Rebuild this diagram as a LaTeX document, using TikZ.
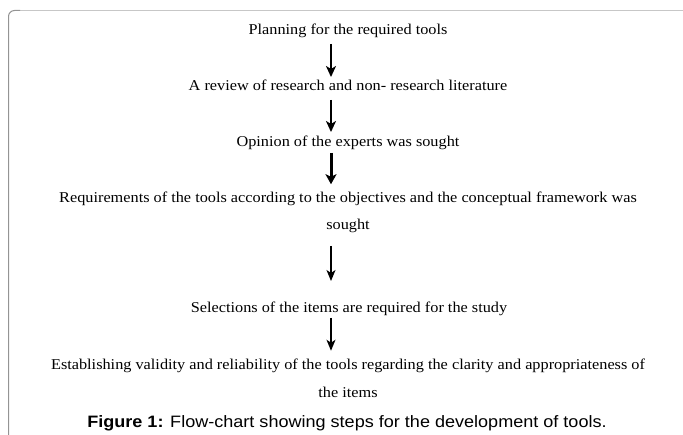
\documentclass[tikz,border=0pt]{standalone}
\usepackage{fontspec}
\setmainfont{Liberation Serif}
\newfontfamily\capfont{Liberation Sans}
\usetikzlibrary{arrows.meta}
\tikzset{
  stepnode/.style={anchor=base, inner sep=0pt, align=center, xscale=1.085, transform shape, font=\fontsize{15}{27.5}\selectfont},
  arr/.style={line width=2pt, -{Stealth[length=11pt,width=10pt,inset=3pt]}},
  arrthin/.style={line width=1.5pt, -{Stealth[length=11pt,width=9pt,inset=3pt]}},
  arrthick/.style={line width=3pt, -{Stealth[length=10pt,width=11pt,inset=2.5pt]}},
  frameleft/.style={draw=black!42, line width=1pt, rounded corners=6pt},
  frametop/.style={draw=black!22, line width=1.2pt}
}
\begin{document}
\begin{tikzpicture}[x=1pt,y=-1pt]
\useasboundingbox (0,0) rectangle (683,435);
% frame
\draw[frametop] (16,10.5) -- (683,10.5);
\draw[frameleft] (8.5,440) -- (8.5,10.5) -- (20,10.5);
\coordinate (ax) at (331,0);
% steps
\node[stepnode] (n1) at (348,35) {Planning for the required tools};
\node[stepnode] (n2) at (348,91) {A review of research and non- research literature};
\node[stepnode] (n3) at (348,147) {Opinion of the experts was sought};
\node[stepnode] (n4) at (348,230) {Requirements of the tools according to the objectives and the conceptual framework was\\sought};
\node[stepnode] (n5) at (349,313) {Selections of the items are required for the study};
\node[stepnode] (n6) at (348,397.5) {Establishing validity and reliability of the tools regarding the clarity and appropriateness of\\the items};
\node[anchor=base, inner sep=0pt, xscale=1.094, transform shape, font=\capfont\fontsize{16.5}{19}\selectfont] (cap) at (347,428) {\textbf{Figure 1:} Flow-chart showing steps for the development of tools.};
% arrows
\draw[arr, shorten <=9pt, shorten >=14pt] (n1.base -| ax) -- (n2.base -| ax);
\draw[arr, shorten <=9pt, shorten >=15pt] (n2.base -| ax) -- (n3.base -| ax);
\draw[arrthick, shorten <=6pt, shorten >=7.5pt] (n3.base -| ax) -- (n4.north -| ax);
\draw[arrthin, shorten <=16pt, shorten >=32pt] (n4.base -| ax) -- (n5.base -| ax);
\draw[arrthin, shorten <=5pt, shorten >=8.5pt] (n5.base -| ax) -- (n6.north -| ax);
\end{tikzpicture}
\end{document}
